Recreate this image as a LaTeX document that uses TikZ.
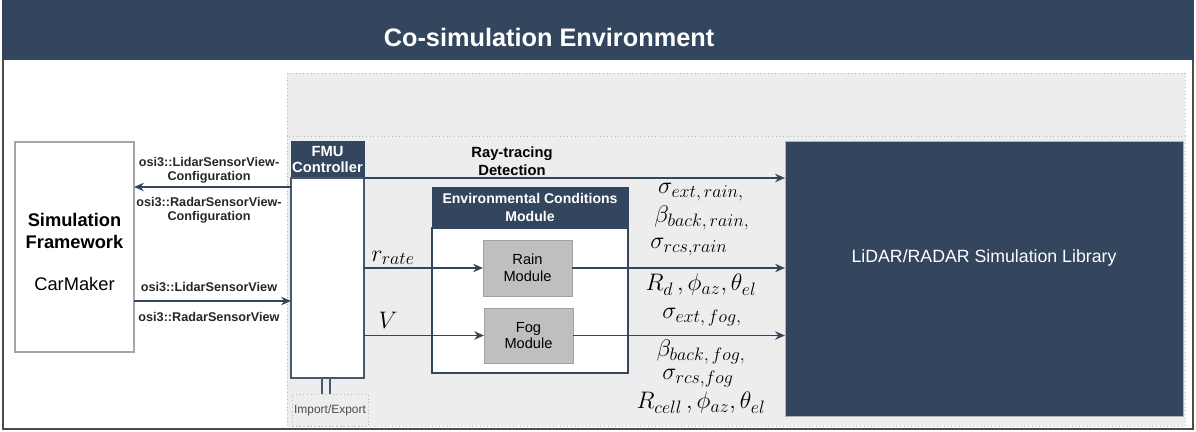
\documentclass[tikz,border=0pt]{standalone}
\usepackage{fix-cm}
\usepackage{fontspec}
\setmainfont{Liberation Sans}
\DeclareMathSizes{17}{17}{12.8}{10}
\usetikzlibrary{arrows.meta}

\begin{document}
\begin{tikzpicture}[x=0.025cm, y=-0.025cm,
    darkbox/.style={fill=navy, draw=navy, text=white, font=\bfseries, align=center, inner sep=0pt, outer sep=0pt},
    whitebox/.style={fill=white, draw=boxline, line width=0.8pt, inner sep=0pt, outer sep=0pt},
    modbox/.style={fill=modgrey, draw=modgrey!85!black, line width=0.4pt, align=center, inner sep=0pt, outer sep=0pt, font=\fontsize{10.4}{12}\selectfont},
    panel/.style={fill=panelgrey, draw=gray!55, dotted, line width=0.6pt},
    arr/.style={-{Stealth[length=7pt, width=6pt]}, navy, line width=0.9pt},
    osi/.style={font=\fontsize{9}{10}\selectfont\bfseries, align=center, text=black!85},
    mathlbl/.style={font=\fontsize{17}{20}\selectfont, inner sep=0pt}]
    % Define colors
    \definecolor{navy}{RGB}{52,70,94}
    \definecolor{boxline}{RGB}{72,88,110}
    \definecolor{panelgrey}{RGB}{237,237,237}
    \definecolor{modgrey}{RGB}{191,191,191}

    \useasboundingbox (0,0) rectangle (1196,432);

    % Outer frame and title bar
    \draw[gray!60!black, line width=0.8pt] (3,0) rectangle (1193,429);
    \fill[navy] (2,0) rectangle (1194,60);
    \node[text=white, font=\fontsize{18}{21}\selectfont\bfseries] (title) at (549,37) {Co-simulation Environment};

    % Grey panel
    \draw[panel] (287,73) rectangle (1185,136);
    \draw[panel] (287,136) rectangle (1185,426);

    % Simulation framework
    \node[whitebox, draw=gray!70, minimum width=2.975cm, minimum height=5.25cm] (simfw) at (74.5,247) {};
    \node[align=center, font=\fontsize{13}{15.6}\selectfont] (simtxt) at (74.5,252) {\textbf{Simulation}\\\textbf{Framework}\\[14pt]CarMaker};

    % FMU controller
    \node[darkbox, font=\fontsize{10.5}{12}\selectfont\bfseries, minimum width=1.825cm, minimum height=0.925cm] (fmuhead) at (327.5,159.5) {FMU\\Controller};
    \node[whitebox, minimum width=1.825cm, minimum height=5cm] (fmubody) at (327.5,278) {};
    \node[fill=panelgrey, draw=gray!55, dotted, line width=0.6pt, font=\fontsize{8.5}{10}\selectfont, text=black!70, inner sep=0pt, minimum width=1.9cm, minimum height=0.8cm] (impexp) at (330,410) {Import/Export};
    \foreach \lx in {322,330}
        \draw[boxline, line width=0.8pt] (\lx,0 |- fmubody.south) -- (\lx,0 |- impexp.north);

    % Environmental conditions module
    \node[darkbox, font=\fontsize{10}{12.6}\selectfont\bfseries, minimum width=4.9cm, minimum height=1.025cm] (envhead) at (530,207.5) {Environmental Conditions\\Module};
    \node[whitebox, draw=navy, minimum width=4.9cm, minimum height=3.625cm] (envbody) at (530,300.5) {};
    \node[modbox, minimum width=2.225cm, minimum height=1.4cm] (rain) at (527.5,268) {Rain\\Module};
    \node[modbox, minimum width=2.225cm, minimum height=1.375cm] (fog) at (528.5,335.5) {Fog\\Module};

    % Simulation library
    \node[darkbox, draw=gray!60, minimum width=9.95cm, minimum height=6.875cm] (lib) at (984,278.5) {};
    \node[text=white, font=\fontsize{12.6}{15}\selectfont] (libtxt) at (984,258) {LiDAR/RADAR Simulation Library};

    % OSI messages
    \coordinate (cfg) at (0,187);
    \coordinate (view) at (0,301);
    \draw[arr] (fmubody.west |- cfg) -- (simfw.east |- cfg);
    \draw[arr] (simfw.east |- view) -- (fmubody.west |- view);
    \node[osi] (lidcfg) at (209,170) {osi3::LidarSensorView-\\Configuration};
    \node[osi] (radcfg) at (209,210) {osi3::RadarSensorView-\\Configuration};
    \node[osi] (lidview) at (209,287) {osi3::LidarSensorView};
    \node[osi] (radview) at (209,317) {osi3::RadarSensorView};

    % Ray-tracing
    \draw[arr] (fmuhead.south east) -- (fmuhead.south east -| lib.west);
    \node[align=center, font=\fontsize{10.5}{12.8}\selectfont\bfseries] (ray) at (512,161) {Ray-tracing\\Detection};

    % Weather inputs
    \draw[arr] (fmubody.east |- rain.west) -- (rain.west);
    \draw[arr] (fmubody.east |- fog.west) -- (fog.west);
    \node[mathlbl] (rrate) at (393,258) {$r_{rate}$};
    \node[mathlbl] (vis) at (388,320) {$V$};

    % Outputs to the library
    \draw[arr] (rain.east) -- (rain.east -| lib.west);
    \draw[arr] (fog.east) -- (fog.east -| lib.west);
    \node[mathlbl] (sextr) at (701,192) {$\sigma_{ext,\,rain,}$};
    \node[mathlbl] (bbackr) at (702,218) {$\beta_{back,\,rain,}$};
    \node[mathlbl] (srcsr) at (689,247) {$\sigma_{rcs,rain}$};
    \node[mathlbl] (rd) at (701,285) {$R_{d}\,,\phi_{az},\theta_{el}$};
    \node[mathlbl] (sextf) at (702,317) {$\sigma_{ext,\,fog,}$};
    \node[mathlbl] (bbackf) at (701,352) {$\beta_{back,\,fog,}$};
    \node[mathlbl] (srcsf) at (698,378) {$\sigma_{rcs,fog}$};
    \node[mathlbl] (rcell) at (701,403) {$R_{cell}\,,\phi_{az},\theta_{el}$};

\end{tikzpicture}
\end{document}
